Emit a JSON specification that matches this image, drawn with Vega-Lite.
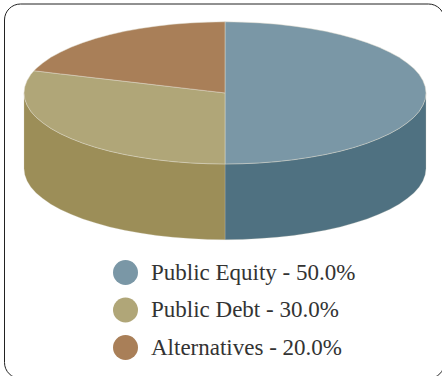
{
  "$schema": "https://vega.github.io/schema/vega-lite/v6.json",
  "width": 442,
  "height": 376,
  "autosize": {"type": "fit", "contains": "padding"},
  "padding": {"left": 4, "top": 3.5, "right": -2, "bottom": -2},
  "background": "white",
  "view": {"stroke": "#222222", "strokeWidth": 1, "cornerRadius": 16, "fill": "white"},
  "datasets": {
    "walls": [
      {"s":"Public Equity","x":0,"y":-71,"y2":-146.6},{"s":"Public Equity","x":17.5,"y":-70.7,"y2":-146.3},{"s":"Public Equity","x":34.9,"y":-69.9,"y2":-145.5},{"s":"Public Equity","x":52,"y":-68.6,"y2":-144.2},{"s":"Public Equity","x":68.7,"y":-66.7,"y2":-142.3},{"s":"Public Equity","x":84.9,"y":-64.3,"y2":-139.9},{"s":"Public Equity","x":100.5,"y":-61.5,"y2":-137.1},{"s":"Public Equity","x":115.3,"y":-58.2,"y2":-133.8},{"s":"Public Equity","x":129.2,"y":-54.4,"y2":-130},{"s":"Public Equity","x":142.1,"y":-50.2,"y2":-125.8},{"s":"Public Equity","x":154,"y":-45.6,"y2":-121.2},{"s":"Public Equity","x":164.6,"y":-40.7,"y2":-116.3},{"s":"Public Equity","x":174.1,"y":-35.5,"y2":-111.1},{"s":"Public Equity","x":182.2,"y":-29.9,"y2":-105.5},{"s":"Public Equity","x":188.9,"y":-24.3,"y2":-99.9},{"s":"Public Equity","x":194.2,"y":-18.4,"y2":-94},{"s":"Public Equity","x":197.9,"y":-12.3,"y2":-87.9},{"s":"Public Equity","x":200.2,"y":-6.2,"y2":-81.8},{"s":"Public Equity","x":201,"y":0,"y2":-75.6},
      {"s":"Public Debt","x":-201,"y":0,"y2":-75.6},{"s":"Public Debt","x":-200.2,"y":-6.2,"y2":-81.8},{"s":"Public Debt","x":-197.9,"y":-12.3,"y2":-87.9},{"s":"Public Debt","x":-194.2,"y":-18.4,"y2":-94},{"s":"Public Debt","x":-188.9,"y":-24.3,"y2":-99.9},{"s":"Public Debt","x":-182.2,"y":-29.9,"y2":-105.5},{"s":"Public Debt","x":-174.1,"y":-35.5,"y2":-111.1},{"s":"Public Debt","x":-164.6,"y":-40.7,"y2":-116.3},{"s":"Public Debt","x":-154,"y":-45.6,"y2":-121.2},{"s":"Public Debt","x":-142.1,"y":-50.2,"y2":-125.8},{"s":"Public Debt","x":-129.2,"y":-54.4,"y2":-130},{"s":"Public Debt","x":-115.3,"y":-58.2,"y2":-133.8},{"s":"Public Debt","x":-100.5,"y":-61.5,"y2":-137.1},{"s":"Public Debt","x":-84.9,"y":-64.3,"y2":-139.9},{"s":"Public Debt","x":-68.7,"y":-66.7,"y2":-142.3},{"s":"Public Debt","x":-52,"y":-68.6,"y2":-144.2},{"s":"Public Debt","x":-34.9,"y":-69.9,"y2":-145.5},{"s":"Public Debt","x":-17.5,"y":-70.7,"y2":-146.3},{"s":"Public Debt","x":0,"y":-71,"y2":-146.6}
    ],
    "faces": [
      {"s":"Public Equity - 50.0%","x":0,"y":71,"y2":-71},{"s":"Public Equity - 50.0%","x":17.5,"y":70.7,"y2":-70.7},{"s":"Public Equity - 50.0%","x":34.9,"y":69.9,"y2":-69.9},{"s":"Public Equity - 50.0%","x":52,"y":68.6,"y2":-68.6},{"s":"Public Equity - 50.0%","x":68.7,"y":66.7,"y2":-66.7},{"s":"Public Equity - 50.0%","x":84.9,"y":64.3,"y2":-64.3},{"s":"Public Equity - 50.0%","x":100.5,"y":61.5,"y2":-61.5},{"s":"Public Equity - 50.0%","x":115.3,"y":58.2,"y2":-58.2},{"s":"Public Equity - 50.0%","x":129.2,"y":54.4,"y2":-54.4},{"s":"Public Equity - 50.0%","x":142.1,"y":50.2,"y2":-50.2},{"s":"Public Equity - 50.0%","x":154,"y":45.6,"y2":-45.6},{"s":"Public Equity - 50.0%","x":164.6,"y":40.7,"y2":-40.7},{"s":"Public Equity - 50.0%","x":174.1,"y":35.5,"y2":-35.5},{"s":"Public Equity - 50.0%","x":182.2,"y":29.9,"y2":-29.9},{"s":"Public Equity - 50.0%","x":188.9,"y":24.3,"y2":-24.3},{"s":"Public Equity - 50.0%","x":194.2,"y":18.4,"y2":-18.4},{"s":"Public Equity - 50.0%","x":197.9,"y":12.3,"y2":-12.3},{"s":"Public Equity - 50.0%","x":200.2,"y":6.2,"y2":-6.2},{"s":"Public Equity - 50.0%","x":201,"y":0,"y2":0},
      {"s":"Public Debt - 30.0%","x":-201,"y":0,"y2":0},{"s":"Public Debt - 30.0%","x":-200.2,"y":6.2,"y2":-6.2},{"s":"Public Debt - 30.0%","x":-197.9,"y":12.3,"y2":-12.3},{"s":"Public Debt - 30.0%","x":-194.2,"y":18.4,"y2":-18.4},{"s":"Public Debt - 30.0%","x":-191,"y":22.1,"y2":-22.1},{"s":"Public Debt - 30.0%","x":-188.9,"y":21.9,"y2":-24.3},{"s":"Public Debt - 30.0%","x":-182.2,"y":21.1,"y2":-29.9},{"s":"Public Debt - 30.0%","x":-174.1,"y":20.1,"y2":-35.5},{"s":"Public Debt - 30.0%","x":-164.6,"y":19,"y2":-40.7},{"s":"Public Debt - 30.0%","x":-154,"y":17.8,"y2":-45.6},{"s":"Public Debt - 30.0%","x":-142.1,"y":16.4,"y2":-50.2},{"s":"Public Debt - 30.0%","x":-129.2,"y":14.9,"y2":-54.4},{"s":"Public Debt - 30.0%","x":-115.3,"y":13.3,"y2":-58.2},{"s":"Public Debt - 30.0%","x":-100.5,"y":11.6,"y2":-61.5},{"s":"Public Debt - 30.0%","x":-84.9,"y":9.8,"y2":-64.3},{"s":"Public Debt - 30.0%","x":-68.7,"y":7.9,"y2":-66.7},{"s":"Public Debt - 30.0%","x":-52,"y":6,"y2":-68.6},{"s":"Public Debt - 30.0%","x":-34.9,"y":4,"y2":-69.9},{"s":"Public Debt - 30.0%","x":-17.5,"y":2,"y2":-70.7},{"s":"Public Debt - 30.0%","x":0,"y":0,"y2":-71},
      {"s":"Alternatives - 20.0%","x":-191,"y":22.1,"y2":22.1},{"s":"Alternatives - 20.0%","x":-188.9,"y":24.3,"y2":21.9},{"s":"Alternatives - 20.0%","x":-182.2,"y":29.9,"y2":21.1},{"s":"Alternatives - 20.0%","x":-174.1,"y":35.5,"y2":20.1},{"s":"Alternatives - 20.0%","x":-164.6,"y":40.7,"y2":19},{"s":"Alternatives - 20.0%","x":-154,"y":45.6,"y2":17.8},{"s":"Alternatives - 20.0%","x":-142.1,"y":50.2,"y2":16.4},{"s":"Alternatives - 20.0%","x":-129.2,"y":54.4,"y2":14.9},{"s":"Alternatives - 20.0%","x":-115.3,"y":58.2,"y2":13.3},{"s":"Alternatives - 20.0%","x":-100.5,"y":61.5,"y2":11.6},{"s":"Alternatives - 20.0%","x":-84.9,"y":64.3,"y2":9.8},{"s":"Alternatives - 20.0%","x":-68.7,"y":66.7,"y2":7.9},{"s":"Alternatives - 20.0%","x":-52,"y":68.6,"y2":6},{"s":"Alternatives - 20.0%","x":-34.9,"y":69.9,"y2":4},{"s":"Alternatives - 20.0%","x":-17.5,"y":70.7,"y2":2},{"s":"Alternatives - 20.0%","x":0,"y":71,"y2":0}
    ]
  },
  "encoding": {
    "x": {"field": "x", "type": "quantitative", "axis": null, "scale": {"domain": [-221, 219], "nice": false, "zero": false}},
    "y": {"field": "y", "type": "quantitative", "axis": null, "stack": null, "scale": {"domain": [-284.7, 89.3], "nice": false, "zero": false}},
    "y2": {"field": "y2"}
  },
  "layer": [
    {
      "data": {"name": "walls"},
      "mark": {"type": "area", "stroke": "#d8d4c4", "strokeWidth": 0.5, "strokeOpacity": 0.5},
      "encoding": {
        "color": {"field": "s", "type": "nominal", "legend": null,
          "scale": {"domain": ["Public Equity", "Public Debt"], "range": ["#4f7181", "#9c8e58"]}}
      }
    },
    {
      "data": {"name": "faces"},
      "mark": {"type": "area", "stroke": "#e0dccc", "strokeWidth": 0.6, "strokeOpacity": 0.8},
      "encoding": {
        "color": {"field": "s", "type": "nominal",
          "scale": {"domain": ["Public Equity - 50.0%", "Public Debt - 30.0%", "Alternatives - 20.0%"], "range": ["#7a97a6", "#b0a678", "#a97f58"]},
          "legend": {
            "orient": "none", "legendX": 109, "legendY": 256.5, "title": null,
            "symbolType": "circle", "symbolSize": 625, "symbolStrokeWidth": 0, "symbolOpacity": 1,
            "labelFont": "Liberation Serif", "labelFontSize": 23, "labelColor": "#333333", "labelOffset": 13,
            "labelLimit": 300, "rowPadding": 12.5
          }
        }
      }
    }
  ],
  "resolve": {"scale": {"color": "independent"}}
}
